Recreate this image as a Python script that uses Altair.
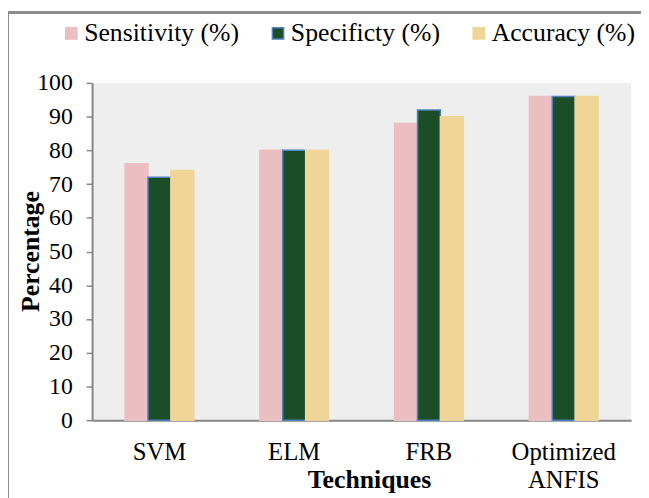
import altair as alt
import pandas as pd

techniques = ["SVM", "ELM", "FRB", "Optimized ANFIS"]
series = ["Sensitivity (%)", "Specificty (%)", "Accuracy (%)"]
sensitivity = [76, 80, 88, 96]
specificity = [72, 80, 92, 96]
accuracy = [74, 80, 90, 96]

rows = []
for i, t in enumerate(techniques):
    for s, vals in zip(series, [sensitivity, specificity, accuracy]):
        rows.append({"Technique": t, "Series": s, "Value": vals[i]})
df = pd.DataFrame(rows)

fills = ["#ebbfc2", "#1b4d27", "#f0d598"]
strokes = ["#ebbfc2", "#4f81bd", "#f0d598"]
FONT = "'Times New Roman', 'Liberation Serif', serif"

legend = alt.Legend(title=None, orient="none", direction="horizontal",
                    legendX=-34, legendY=-63, symbolType="square",
                    symbolSize=130, columnPadding=26, labelOffset=0,
                    labelFont=FONT, labelFontSize=26, labelColor="black", labelLimit=300)

bars = alt.Chart(df).mark_bar(strokeWidth=1.5).encode(
    x=alt.X("Technique:N", sort=techniques,
            scale=alt.Scale(paddingInner=0.49, paddingOuter=0.245),
            axis=alt.Axis(title="Techniques", labelAngle=0, ticks=False,
                          labelPadding=20, labelLineHeight=28,
                          labelFont=FONT, labelFontSize=25, labelColor="black",
                          labelExpr="datum.label == 'Optimized ANFIS' ? ['Optimized', 'ANFIS'] : datum.label",
                          titleFont=FONT, titleFontSize=26,
                          titleX=280, titleY=68, titleAlign="center",
                          titleBaseline="alphabetic")),
    xOffset=alt.XOffset("Series:N", sort=series),
    y=alt.Y("Value:Q", scale=alt.Scale(domain=[0, 100]),
            axis=alt.Axis(title="Percentage", values=list(range(0, 101, 10)),
                          tickSize=6, labelPadding=14,
                          labelFont=FONT, labelFontSize=24, labelColor="black",
                          titleFont=FONT, titleFontSize=26,
                          titleX=-62, titleY=170, titleAlign="center",
                          titleBaseline="middle", titleAngle=270,
                          grid=False)),
    color=alt.Color("Series:N", sort=series,
                    scale=alt.Scale(domain=series, range=fills), legend=legend),
    stroke=alt.Stroke("Series:N", sort=series,
                      scale=alt.Scale(domain=series, range=strokes), legend=legend),
)

border_left = alt.Chart(df).mark_rule(color="#8c8c8c", strokeWidth=2).encode(
    x=alt.value(-85), y=alt.value(-71), y2=alt.value(430))
border_top = alt.Chart(df).mark_rule(color="#8c8c8c", strokeWidth=2).encode(
    x=alt.value(-85), x2=alt.value(560), y=alt.value(-71))

chart = alt.layer(bars, border_left, border_top).properties(
    width=545, height=341,
    autosize=alt.AutoSizeParams(type="none"),
    padding={"left": 85, "top": 73, "right": 10, "bottom": 80},
).configure(font=FONT, background="white").configure_view(
    fill="#eeeeee", stroke=None
).configure_axis(
    titleColor="black", titleFontWeight="bold",
    domainColor="#868686", tickColor="#868686", domainWidth=2, tickWidth=1.5
)

chart.save("out.html", embed_options={"renderer": "svg", "actions": False})
